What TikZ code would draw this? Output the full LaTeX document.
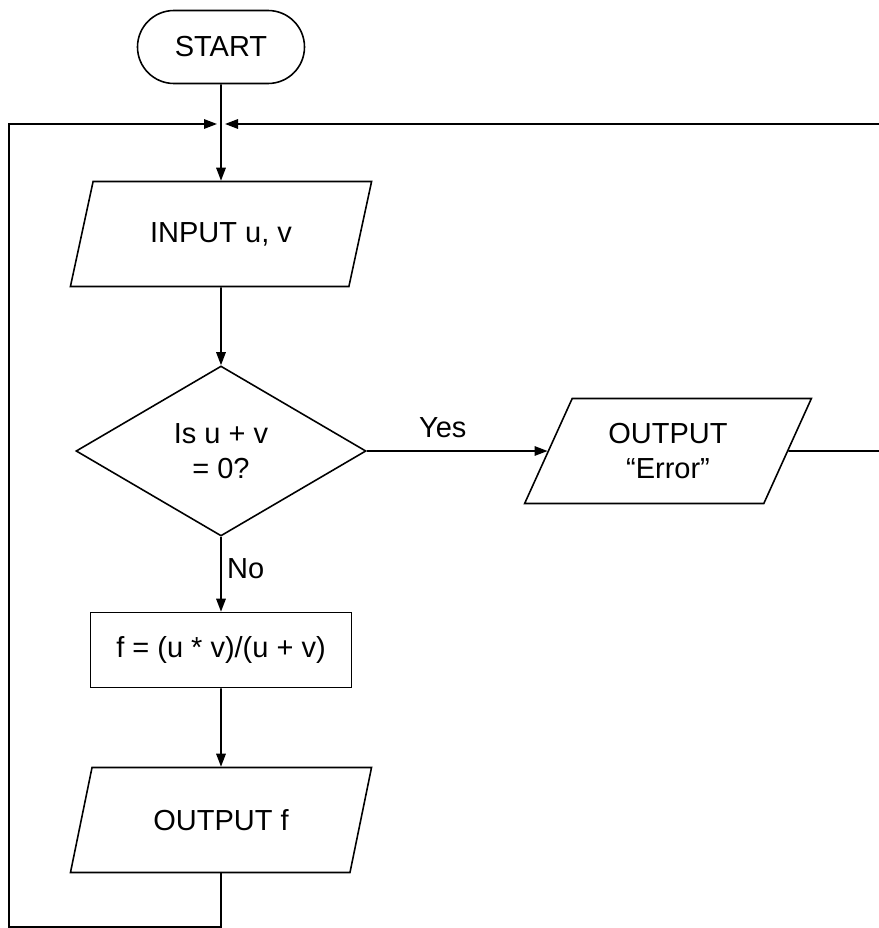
\documentclass[tikz,border=0pt]{standalone}
\usepackage{fontspec}
\setmainfont{Liberation Sans}
\usetikzlibrary{positioning, shapes.geometric, shapes.misc, arrows.meta}

\begin{document}
\begin{tikzpicture}[
  x=0.2mm, y=-0.2mm,
  line width=0.9pt,
  base/.style={draw, font=\fontsize{16.5}{20}\selectfont, align=center, inner sep=0pt},
  terminal/.style={base, rounded rectangle, minimum width=33.4mm, minimum height=14.6mm},
  io/.style={base, trapezium, trapezium left angle=62, trapezium right angle=118,
             trapezium stretches=true, minimum width=60.4mm, minimum height=21mm},
  decision/.style={base, diamond, aspect=1.7, minimum width=58mm, minimum height=34mm},
  process/.style={base, rectangle, minimum width=52.2mm, minimum height=15mm},
  flow/.style={-{Triangle[length=2.6mm, width=1.9mm]}},
  elabel/.style={font=\fontsize{16.5}{20}\selectfont, inner sep=0pt},
]
\useasboundingbox (0,0) rectangle (879,928);

\node[terminal] (start) at (221,47) {START};
\coordinate (merge) at (221,124);
\node[io] (input) at (221,234) {INPUT u, v};
\node[decision] (check) at (221,451) {Is u + v\\= 0?};
\node[io, minimum width=57.4mm] (error) at (668,451) {OUTPUT\\“Error”};
\node[process] (calc) at (221,650) {f = (u * v)/(u + v)};
\node[io] (outf) at (221,820) {OUTPUT f};
\coordinate (loopl) at (9,927);
\coordinate (loopr) at (895,451);

\draw (start) -- (merge);
\draw[flow] (merge) -- (input);
\draw[flow] (input) -- (check);
\draw[flow] (check) -- node[elabel, above=7pt, pos=0.42] (yes) {Yes} (error);
\draw[flow] (check) -- node[elabel, right=3pt, pos=0.42] (no) {No} (calc);
\draw[flow] (calc) -- (outf);
\draw[flow, shorten >=0.8mm] (outf) |- (loopl) |- (merge);
\draw[flow, shorten >=0.8mm] (error) -- (loopr) |- (merge);
\end{tikzpicture}
\end{document}
